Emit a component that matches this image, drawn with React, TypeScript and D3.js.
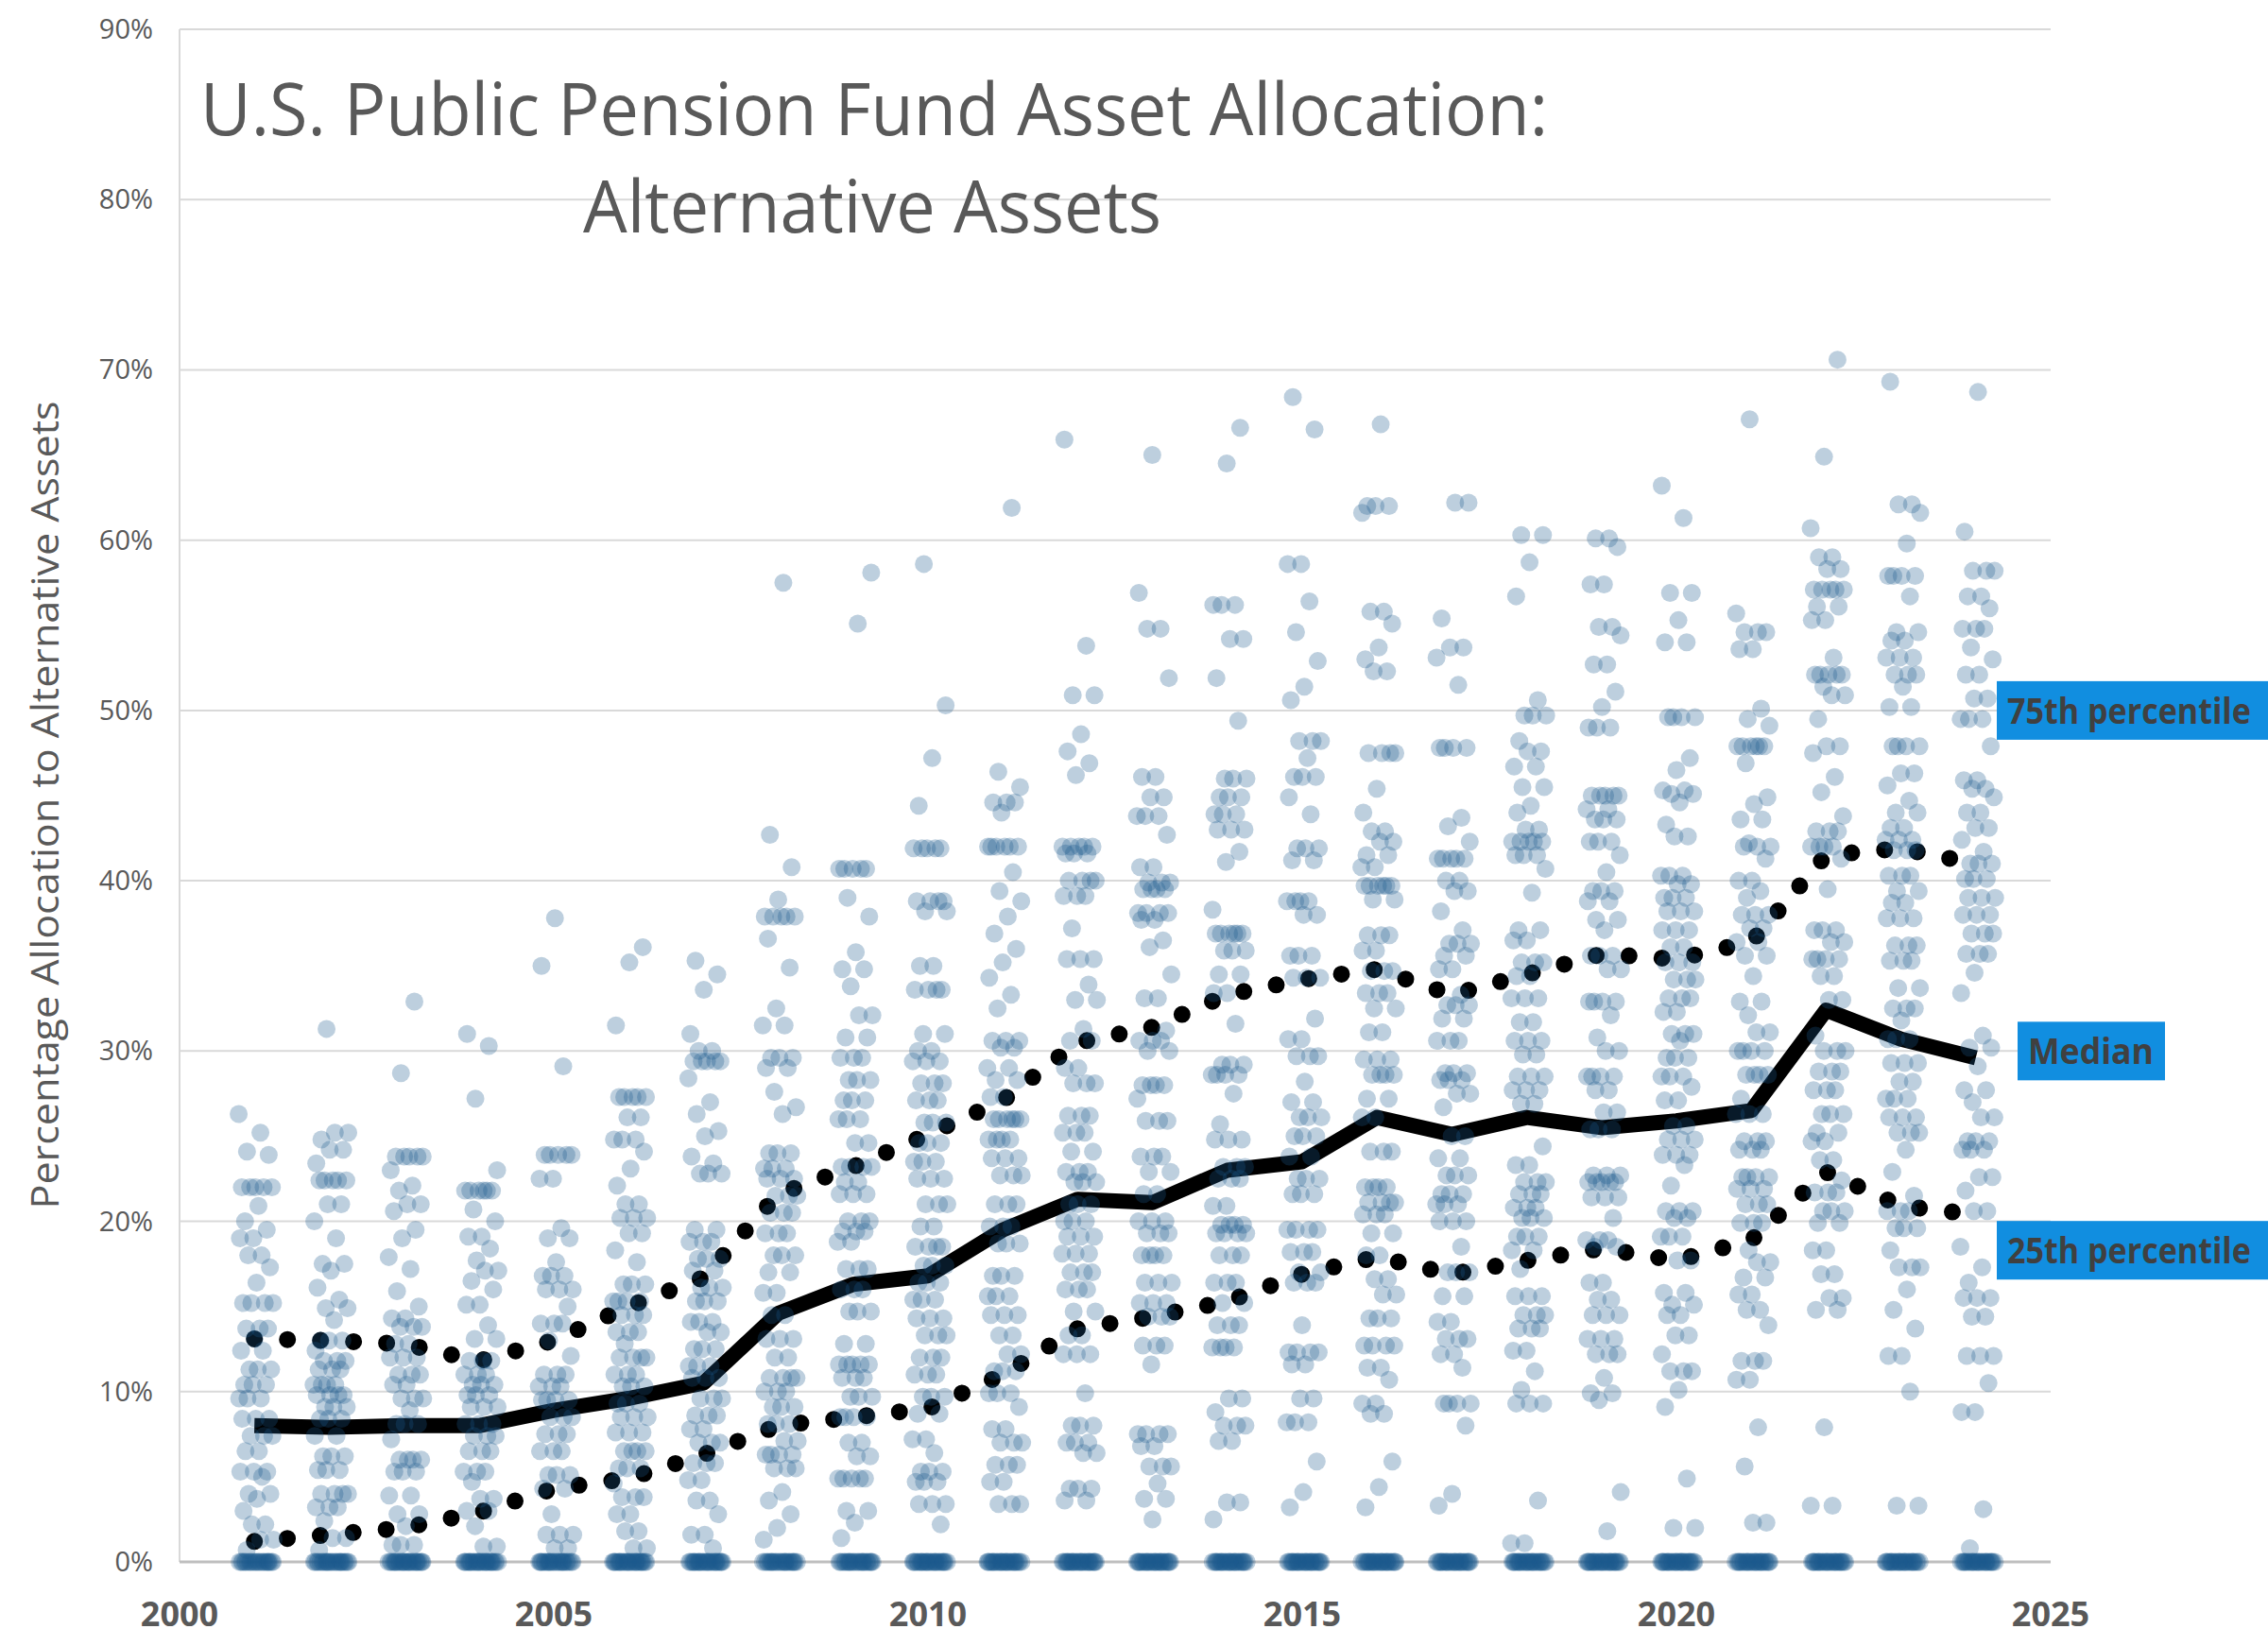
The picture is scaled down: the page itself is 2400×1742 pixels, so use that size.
import React, { useRef, useEffect } from "react";
import * as d3 from "d3";

type Entry = number | [number, number];

const years = [
  2001, 2002, 2003, 2004, 2005, 2006, 2007, 2008, 2009, 2010, 2011, 2012,
  2013, 2014, 2015, 2016, 2017, 2018, 2019, 2020, 2021, 2022, 2023, 2024,
];

const medianLine = [
  8.0, 7.9, 8.0, 8.0, 8.9, 9.6, 10.5, 14.6, 16.3, 16.8, 19.5, 21.3, 21.1, 23.0,
  23.5, 26.1, 25.1, 26.1, 25.5, 25.9, 26.5, 32.4, 30.7, 29.6,
];
const p75Line = [
  13.1, 13.0, 12.8, 11.8, 13.0, 15.0, 16.7, 21.6, 23.2, 25.1, 27.1, 30.5, 31.4,
  33.3, 34.2, 34.8, 33.3, 34.5, 35.7, 35.4, 36.4, 41.5, 41.9, 41.0,
];
const p25Line = [
  1.2, 1.6, 2.0, 2.9, 4.3, 4.9, 6.3, 8.0, 8.5, 9.0, 11.0, 13.7, 14.4, 15.3,
  16.9, 17.9, 16.9, 17.7, 18.4, 17.7, 18.9, 22.9, 20.9, 20.4,
];

// plans reporting 0% alternatives, per year
const zeroCounts = [22, 24, 26, 26, 24, 26, 26, 24, 24, 26, 26, 26, 26, 26, 26, 26, 26, 26, 26, 26, 26, 26, 26, 26];

// non-zero allocations, [value, how many plans] where several sit together
const fy2001: Entry[] = [26.3, 25.2, 24.1, 23.9, [22.0, 5], 20.9, 20.0, 19.5, [19.0, 2], [18.0, 2], 17.3, 16.4, [15.2, 4], [13.7, 3], 13.1, [12.4, 2], [11.3, 3], [10.4, 3], [9.6, 3], [8.4, 3], [7.4, 3], [6.5, 2], [5.3, 3], 5.0, [4.0, 2], 3.7, 3.0, [2.2, 2], [1.3, 2], 0.7];
const fy2002: Entry[] = [31.3, [25.2, 2], 24.8, [24.2, 2], 23.4, [22.4, 5], [21.0, 2], 20.0, 19.0, [17.5, 2], 17.1, 16.1, 15.4, [14.9, 2], 14.2, [13.0, 3], 12.4, [11.8, 3], [11.3, 3], [10.4, 4], [9.8, 4], [9.1, 3], [8.4, 3], [7.4, 2], [6.2, 3], [5.4, 3], [4.0, 4], [3.2, 3], 2.4, [1.4, 2], 0.7];
const fy2003: Entry[] = [32.9, 28.7, [23.8, 5], 23.0, 22.1, 21.8, [21.0, 2], 20.6, 19.5, 19.0, 17.9, 17.2, 15.9, 15.0, [14.3, 2], [13.8, 3], [12.8, 2], [12.0, 3], [11.0, 3], [10.4, 2], [9.6, 3], 8.9, [8.1, 3], 7.2, [6.0, 4], [5.3, 3], [3.9, 2], [2.8, 2], 2.1, [1.0, 3]];
const fy2004: Entry[] = [31.0, 30.3, 27.2, 23.0, [21.8, 6], 20.7, 20.0, [19.1, 2], 18.4, 17.7, [17.1, 2], 16.5, 16.0, [15.1, 2], 13.9, [13.1, 2], [11.8, 3], [11.0, 3], [10.4, 3], [9.8, 3], [9.1, 3], [8.1, 3], [7.4, 3], [6.5, 3], [5.3, 3], 4.7, [3.7, 2], [3.0, 2], 2.1, [0.9, 2]];
const fy2005: Entry[] = [37.8, 35.0, 29.1, [23.9, 5], [22.5, 2], 19.6, [19.0, 2], 17.6, [16.8, 3], [16.0, 3], 15.0, [14.0, 3], 13.0, 12.1, [11.0, 3], [10.3, 3], [9.5, 4], [8.5, 3], [7.5, 3], [6.5, 3], [5.1, 3], [4.3, 2], 2.8, [1.6, 3], [0.8, 2]];
const fy2006: Entry[] = [36.1, 35.2, 31.5, [27.3, 5], [26.1, 2], [24.8, 3], 24.1, 23.1, 22.1, [21.0, 2], [20.2, 3], [19.3, 2], 18.3, 17.6, [16.3, 3], [15.3, 4], [14.5, 3], [13.5, 3], 12.8, [12.0, 4], [11.0, 3], [10.3, 3], [9.3, 3], [8.5, 3], [7.6, 3], [6.5, 4], [5.5, 3], 4.6, [3.8, 3], [2.8, 2], [1.8, 2], [0.8, 2]];
const fy2007: Entry[] = [35.3, 34.5, 33.6, 31.0, [30.0, 2], [29.4, 5], 28.4, 27.0, 26.3, 25.3, 25.0, 23.8, 23.4, [22.8, 3], [19.5, 2], [18.8, 3], [17.8, 3], [17.1, 2], [16.1, 3], [15.3, 3], [14.1, 3], [13.5, 2], [12.5, 3], [11.5, 3], [10.8, 3], [9.6, 3], [8.6, 3], [7.8, 2], [7.0, 3], [5.8, 3], [4.8, 2], [3.6, 2], 2.8, [1.6, 2], 0.8];
const fy2008: Entry[] = [57.5, 42.7, 40.8, 38.9, [37.9, 5], 36.6, 34.9, 32.5, [31.5, 2], [29.6, 3], [29.0, 2], 27.6, 26.7, 26.3, [24.0, 3], [23.1, 3], [22.5, 3], [21.5, 3], [20.5, 3], [19.3, 3], [18.0, 3], [17.0, 2], [15.8, 2], [14.5, 2], [13.1, 3], [12.0, 2], [10.8, 4], [10.0, 3], [9.1, 3], [8.1, 3], [7.1, 2], [6.3, 4], [5.5, 3], 4.1, 3.6, 2.8, 2.0, 1.3];
const fy2009: Entry[] = [58.1, 55.1, [40.7, 5], 39.0, 37.9, 35.8, [34.8, 2], 33.8, [32.1, 2], [30.8, 2], [29.6, 3], [28.3, 3], [27.1, 3], [26.0, 3], [24.6, 2], [23.2, 4], [22.3, 2], [21.6, 3], [20.0, 3], [19.4, 3], [18.8, 2], [17.2, 3], [16.0, 3], [14.7, 3], [12.8, 2], [11.6, 5], [10.8, 3], [9.7, 3], [8.5, 4], [7.0, 2], [6.2, 2], [4.9, 5], [3.0, 2], 2.3, 1.4];
const fy2010: Entry[] = [58.6, 50.3, 47.2, 44.4, [41.9, 5], [38.8, 4], [38.2, 2], [35.0, 2], [33.6, 4], [31.0, 2], [30.0, 2], [29.4, 3], [28.1, 3], [27.1, 3], [25.8, 3], [24.6, 3], [23.5, 3], [22.5, 3], [21.0, 3], [19.7, 2], [18.5, 4], [17.4, 3], [16.4, 3], [15.4, 3], [14.3, 3], [13.3, 3], [12.0, 3], [11.0, 3], [9.7, 3], [8.7, 2], [7.2, 2], 6.4, [5.3, 3], [4.7, 3], [3.4, 3], 2.2];
const fy2011: Entry[] = [61.9, 46.4, 45.5, [44.6, 3], 44.0, [42.0, 6], 40.5, 39.4, 38.8, 37.9, 36.9, 36.0, 35.2, 34.3, 33.3, 32.5, [30.6, 3], [30.2, 2], [29.0, 2], [28.3, 2], [27.3, 2], [26.0, 6], [24.8, 4], [23.7, 3], [22.7, 3], [21.0, 3], [19.7, 3], [18.7, 3], [16.8, 3], [15.6, 3], [14.5, 3], [13.3, 2], [12.2, 2], [11.2, 3], [9.9, 3], 9.1, [7.8, 2], [7.0, 3], [5.7, 3], [4.7, 2], [3.4, 3]];
const fy2012: Entry[] = [65.9, 53.8, [50.9, 2], 48.6, 47.6, 46.9, 46.2, [42.0, 5], [41.6, 3], [40.0, 4], [39.1, 3], 37.2, [35.4, 3], 33.9, [33.0, 2], 31.3, [30.6, 2], [29.0, 2], [28.1, 3], [26.2, 3], [25.2, 3], [24.1, 2], [22.9, 3], [22.3, 3], [21.0, 3], [20.0, 3], [19.1, 3], [18.1, 3], [17.0, 3], [16.0, 3], [14.7, 2], [13.3, 2], [12.2, 3], 9.9, [8.0, 3], [7.0, 3], [6.4, 2], [4.3, 3], [3.6, 2]];
const fy2013: Entry[] = [65.0, 56.9, [54.8, 2], 51.9, [46.1, 2], [44.9, 2], [43.8, 3], 42.7, [40.8, 2], [39.9, 3], [39.5, 4], [38.1, 4], [37.7, 2], 36.5, 36.1, 34.5, [33.1, 2], 31.2, [30.6, 3], [30.0, 2], [28.0, 4], 27.2, [25.9, 3], [23.8, 3], [22.9, 2], [21.6, 2], [20.0, 3], [19.3, 3], [18.0, 4], [16.4, 3], [15.2, 3], [14.4, 3], [12.7, 3], 11.6, [7.5, 4], [6.8, 2], [5.6, 3], 4.6, [3.7, 2], 2.5];
const fy2014: Entry[] = [66.6, 64.5, [56.2, 3], [54.2, 2], 51.9, 49.4, [46.0, 3], [44.9, 3], [43.9, 3], [43.0, 3], 41.7, 41.1, 38.3, [36.9, 6], [35.9, 3], [34.5, 2], [33.4, 2], 31.6, [29.2, 3], [28.6, 4], 27.5, 25.7, [24.8, 3], [23.2, 3], [22.5, 3], [20.9, 2], [19.8, 4], [19.3, 4], [18.0, 3], [16.4, 3], [15.2, 2], [13.9, 3], [12.6, 4], [9.6, 2], 8.8, [8.0, 3], [7.1, 2], [3.5, 2], 2.5];
const fy2015: Entry[] = [68.4, 66.5, [58.6, 2], 56.4, 54.6, 52.9, 51.4, 50.6, [48.2, 3], 47.2, [46.1, 3], 44.9, 43.9, [41.9, 3], [41.2, 2], [38.8, 4], [38.0, 2], [35.6, 3], [34.3, 3], 31.9, [30.7, 2], [29.7, 3], 28.2, [27.0, 2], [26.1, 3], [25.0, 3], [23.8, 2], [22.5, 3], [21.6, 3], [19.5, 4], [18.2, 3], [17.0, 2], [16.4, 3], 13.9, [12.3, 4], [11.6, 2], [9.6, 2], [8.2, 3], 5.9, 4.1, 3.2];
const fy2016: Entry[] = [66.8, [62.0, 3], 61.6, [55.8, 2], 55.1, 53.7, 53.0, [52.3, 2], [47.5, 4], 45.4, 44.0, [42.9, 2], [42.3, 2], [41.5, 2], [40.8, 2], [39.7, 6], [38.9, 2], [36.8, 3], [35.9, 2], [34.7, 3], [33.4, 3], [32.5, 2], [31.1, 2], [29.5, 3], [28.6, 4], [27.2, 2], [26.1, 2], [24.1, 3], [22.0, 4], [21.1, 4], [20.4, 3], [19.3, 2], [18.0, 2], [16.6, 2], [15.7, 2], [14.3, 3], [12.7, 4], [11.4, 2], 10.7, [9.3, 2], [8.7, 2], 5.9, 4.4, 3.2];
const fy2017: Entry[] = [[62.2, 2], 55.4, [53.7, 2], 53.1, 51.5, [47.8, 4], 43.7, 43.2, 42.3, [41.3, 5], [40.0, 2], [39.4, 2], 38.2, 37.1, [36.3, 3], [35.6, 2], [34.8, 2], 33.3, [32.7, 3], [31.9, 2], [30.6, 3], [28.7, 3], [28.3, 3], [27.5, 2], 26.7, [25.0, 2], [23.7, 2], [22.7, 3], [21.6, 3], [21.0, 3], [20.0, 3], 18.5, [17.0, 3], [15.6, 2], [14.1, 2], [13.1, 3], [12.2, 2], 11.4, [9.3, 4], 8.0, 4.0, 3.3];
const fy2018: Entry[] = [[60.3, 2], 58.7, 56.7, 50.6, [49.7, 3], 48.2, [47.6, 2], [46.7, 2], [45.5, 2], 44.4, 44.0, [43.0, 2], [42.3, 5], [41.5, 3], 40.7, 39.3, [37.1, 2], [36.5, 2], [35.2, 3], [34.4, 2], [33.1, 3], [31.7, 2], [30.6, 3], [29.8, 2], [28.5, 3], [27.7, 3], [26.9, 2], 24.4, [23.3, 2], [22.3, 3], [21.6, 3], [20.8, 3], [20.2, 3], [19.1, 3], [18.3, 2], 17.2, [15.6, 3], [14.5, 3], [13.7, 3], [12.4, 2], 11.2, 10.1, [9.3, 3], 3.6, [1.1, 2]];
const fy2019: Entry[] = [[60.1, 2], 59.6, [57.4, 2], [54.9, 2], 54.4, [52.7, 2], 51.1, 50.2, [49.0, 3], [45.0, 5], [44.2, 2], [43.6, 3], [42.3, 3], 41.5, 40.5, [39.4, 3], [38.8, 2], [37.7, 2], 37.1, [35.6, 3], [34.8, 2], [32.9, 4], 32.1, 30.8, [30.0, 2], [28.5, 4], [27.7, 2], [26.4, 2], [25.4, 3], [22.7, 3], [22.3, 5], [21.4, 3], 20.2, [18.9, 3], [18.5, 2], [16.4, 2], [15.4, 2], [14.5, 3], [13.1, 3], [12.2, 3], 10.8, [9.9, 2], 9.5, 4.1, 1.8];
const fy2020: Entry[] = [63.2, 61.3, [56.9, 2], 55.3, [54.0, 2], [49.6, 4], 47.2, 46.5, [45.3, 2], [45.1, 2], 44.6, 43.3, [42.6, 2], [40.3, 3], [39.8, 2], [39.0, 3], [38.2, 3], [37.1, 3], [36.1, 2], [35.2, 3], [34.2, 3], [33.1, 3], [32.3, 2], [31.0, 3], 30.6, [29.6, 3], [28.5, 3], 27.9, [27.1, 2], [25.6, 2], [24.8, 3], [23.9, 3], 23.3, 22.1, [20.6, 3], [20.2, 2], [19.1, 3], [17.7, 2], [15.8, 2], [15.1, 2], [14.5, 2], [13.3, 2], 12.2, [11.2, 3], 10.1, 9.1, 4.9, [2.0, 2]];
const fy2021: Entry[] = [67.1, 55.7, [54.6, 3], [53.6, 2], 50.1, 49.5, 49.1, [47.9, 6], 46.9, 44.9, 44.5, [43.6, 2], 42.2, [42.0, 3], 41.3, [40.0, 2], 39.4, 39.0, [38.0, 3], [37.2, 2], [36.4, 2], [35.6, 2], 34.4, [32.9, 2], 32.1, [31.1, 2], [30.0, 4], [28.6, 4], 27.2, [26.3, 3], [24.7, 3], [24.2, 3], [22.6, 4], [21.9, 3], [21.0, 3], [19.9, 3], 18.3, [17.6, 2], [16.7, 2], [15.7, 2], [14.8, 2], 13.9, [11.8, 3], [10.7, 2], 7.9, 5.6, [2.3, 2]];
const fy2022: Entry[] = [70.6, 64.9, 60.7, [59.0, 2], [58.3, 2], [57.1, 5], [56.1, 2], [55.3, 2], 53.1, [52.1, 5], 51.4, [50.9, 2], 49.5, [47.9, 2], 47.5, 46.1, 45.2, 43.8, [42.9, 3], [42.0, 4], 41.3, 39.5, [37.1, 3], [36.4, 2], [35.4, 4], [34.4, 2], [33.0, 2], 30.9, [30.0, 3], [28.8, 3], [27.7, 3], [26.3, 3], [25.2, 2], [24.7, 2], [23.6, 2], 22.4, [21.7, 3], [20.6, 3], [19.9, 2], [18.3, 2], [16.9, 2], [15.5, 2], [14.8, 2], 7.9, [3.3, 2]];
const fy2023: Entry[] = [69.3, [62.1, 2], 61.6, 59.8, [57.9, 4], 56.7, [54.6, 2], [54.1, 2], [53.1, 3], [52.1, 3], 51.4, [50.2, 2], [47.9, 4], [46.3, 2], 45.6, 44.7, [44.0, 2], [43.1, 2], [42.4, 3], [41.8, 3], [40.3, 3], [39.4, 2], [38.7, 2], [37.8, 3], [36.2, 3], [35.3, 3], [33.7, 2], [32.5, 3], 31.8, [30.7, 3], [29.3, 3], [28.2, 2], [27.2, 3], [26.1, 3], [25.2, 3], 24.2, 22.9, 21.5, [20.6, 3], [19.6, 3], 18.3, [17.3, 3], 16.0, 14.8, 13.7, [12.1, 2], 10.0, [3.3, 2]];
const fy2024: Entry[] = [68.7, 60.5, [58.2, 3], [56.7, 2], 56.0, [54.8, 3], 53.7, 53.0, [52.1, 2], [50.7, 2], [49.5, 3], 47.9, [45.9, 2], [45.4, 2], 44.9, [44.0, 2], [43.1, 2], 42.4, 41.7, [41.0, 3], [40.1, 3], [39.0, 3], [38.0, 3], [36.9, 3], [35.7, 3], 34.6, 33.4, 30.9, [30.2, 2], 29.1, [27.7, 2], 27.0, [26.1, 2], [24.7, 3], [24.2, 3], [22.6, 2], 21.8, [20.6, 2], 18.5, 17.3, 16.4, [15.5, 3], [14.4, 2], [12.1, 3], 10.5, [8.8, 2], 3.1, 0.8];

const scatter = [
  fy2001, fy2002, fy2003, fy2004, fy2005, fy2006, fy2007, fy2008, fy2009, fy2010, fy2011, fy2012,
  fy2013, fy2014, fy2015, fy2016, fy2017, fy2018, fy2019, fy2020, fy2021, fy2022, fy2023, fy2024,
];

const yTicks = [0, 10, 20, 30, 40, 50, 60, 70, 80, 90];
const xTicks = [2000, 2005, 2010, 2015, 2020, 2025];

const labels = [
  { text: "75th percentile", value: 50, x0: 2113, x1: 2400, tx: 2124, tl: 258 },
  { text: "Median", value: 30, x0: 2135, x1: 2291, tx: 2146, tl: 133 },
  { text: "25th percentile", value: 18.3, x0: 2113, x1: 2400, tx: 2124, tl: 258 },
];

const W = 2400;
const H = 1742;
const FONT = "'Open Sans', 'Liberation Sans', sans-serif";

const expand = (list: Entry[]) =>
  list.flatMap((e) => (typeof e === "number" ? [e] : d3.range(e[1]).map(() => e[0])));

export default function App() {
  const ref = useRef<SVGSVGElement>(null);

  useEffect(() => {
    const svg = d3.select(ref.current);
    svg.selectAll("*").remove();

    const x = d3.scaleLinear().domain([2000, 2025]).range([190, 2170]);
    const y = d3.scaleLinear().domain([0, 90]).range([1653, 31]);

    // grid
    svg
      .append("g")
      .selectAll("line")
      .data(yTicks.filter((t) => t > 0))
      .join("line")
      .attr("x1", x(2000))
      .attr("x2", x(2025))
      .attr("y1", (d) => y(d))
      .attr("y2", (d) => y(d))
      .attr("stroke", "#d9d9d9")
      .attr("stroke-width", 2);

    svg
      .append("line")
      .attr("x1", x(2000))
      .attr("x2", x(2000))
      .attr("y1", y(90))
      .attr("y2", y(0))
      .attr("stroke", "#d9d9d9")
      .attr("stroke-width", 2);

    svg
      .append("line")
      .attr("x1", x(2000))
      .attr("x2", x(2025))
      .attr("y1", y(0))
      .attr("y2", y(0))
      .attr("stroke", "#bfbfbf")
      .attr("stroke-width", 3);

    // tick labels
    svg
      .append("g")
      .selectAll("text")
      .data(yTicks)
      .join("text")
      .attr("x", 162)
      .attr("y", (d) => y(d) + 10)
      .attr("text-anchor", "end")
      .attr("font-family", FONT)
      .attr("font-size", 29)
      .attr("fill", "#595959")
      .text((d) => `${d}%`);

    svg
      .append("g")
      .selectAll("text")
      .data(xTicks)
      .join("text")
      .attr("x", (d) => x(d))
      .attr("y", 1721)
      .attr("text-anchor", "middle")
      .attr("font-family", FONT)
      .attr("font-weight", "bold")
      .attr("font-size", 36)
      .attr("fill", "#595959")
      .text((d) => String(d));

    svg
      .append("text")
      .attr("transform", "translate(62,852) rotate(-90)")
      .attr("text-anchor", "middle")
      .attr("font-family", FONT)
      .attr("font-size", 40)
      .attr("fill", "#595959")
      .attr("textLength", 855)
      .attr("lengthAdjust", "spacingAndGlyphs")
      .text("Percentage Allocation to Alternative Assets");

    // title
    svg
      .append("text")
      .attr("x", 212)
      .attr("y", 143)
      .attr("font-family", FONT)
      .attr("font-size", 76)
      .attr("fill", "#595959")
      .attr("textLength", 1426)
      .attr("lengthAdjust", "spacingAndGlyphs")
      .text("U.S. Public Pension Fund Asset Allocation:");
    svg
      .append("text")
      .attr("x", 617)
      .attr("y", 246)
      .attr("font-family", FONT)
      .attr("font-size", 76)
      .attr("fill", "#595959")
      .attr("textLength", 612)
      .attr("lengthAdjust", "spacingAndGlyphs")
      .text("Alternative Assets");

    // summary lines (drawn under the points)
    const line = d3
      .line<number>()
      .x((_, i) => x(years[i]))
      .y((d) => y(d));

    svg
      .append("path")
      .attr("d", line(medianLine))
      .attr("fill", "none")
      .attr("stroke", "#000")
      .attr("stroke-width", 16)
      .attr("stroke-linejoin", "round");

    [p75Line, p25Line].forEach((series) => {
      svg
        .append("path")
        .attr("d", line(series))
        .attr("fill", "none")
        .attr("stroke", "#000")
        .attr("stroke-width", 18)
        .attr("stroke-linecap", "round")
        .attr("stroke-dasharray", "0 35");
    });

    // plan points, spread across the fiscal year
    const points = years.flatMap((yr, k) => {
      const vals = [...expand(scatter[k]), ...d3.range(zeroCounts[k]).map(() => 0)];
      return vals.map((v, i) => {
        const f = (i * 0.6180339887 + k * 0.37) % 1;
        return { t: yr - 0.21 + f * 0.47, v };
      });
    });

    svg
      .append("g")
      .selectAll("circle")
      .data(points)
      .join("circle")
      .attr("cx", (d) => x(d.t))
      .attr("cy", (d) => y(d.v))
      .attr("r", 9.5)
      .attr("fill", "#1a5a8c")
      .attr("fill-opacity", 0.29);

    // series labels: squeeze the bold text horizontally to fit its box
    const lab = svg.append("g").selectAll("g").data(labels).join("g");
    lab
      .append("rect")
      .attr("x", (d) => d.x0)
      .attr("y", (d) => y(d.value) - 31)
      .attr("width", (d) => d.x1 - d.x0)
      .attr("height", 62)
      .attr("fill", "#118ee0");
    lab
      .append("text")
      .attr("font-family", FONT)
      .attr("font-weight", "bold")
      .attr("font-size", 38)
      .attr("fill", "#404040")
      .text((d) => d.text)
      .attr("transform", function (d) {
        const w = (this as SVGTextElement).getComputedTextLength() || d.tl;
        return `translate(${d.tx},${y(d.value) + 14}) scale(${d.tl / w},1)`;
      });
  }, []);

  return (
    <div style={{ position: "absolute", left: 0, top: 0, background: "#fff" }}>
      <svg ref={ref} width={W} height={H} style={{ display: "block" }} />
    </div>
  );
}
